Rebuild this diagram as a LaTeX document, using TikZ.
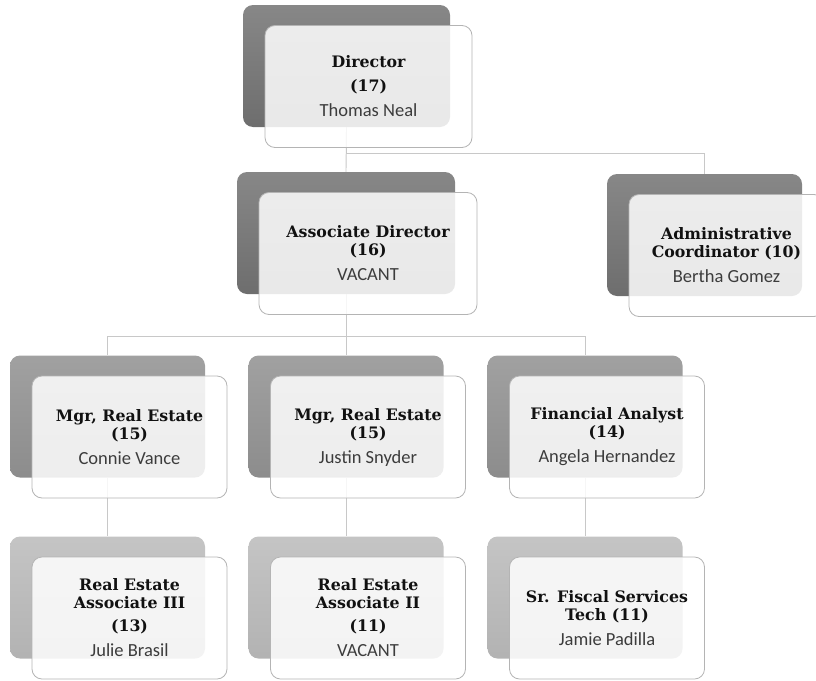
\documentclass[tikz,border=0pt]{standalone}
\usepackage{fontspec}
\newfontfamily\titlefont{DejaVu Serif}
\newfontfamily\namefont{Carlito}
\usetikzlibrary{backgrounds}

\definecolor{linkgray}{HTML}{C8C8C8}
\definecolor{framegray}{HTML}{B4B4B4}
\definecolor{namegray}{HTML}{3C3C3C}
\definecolor{titleblack}{HTML}{111111}

\newcommand\who[1]{{\namefont\mdseries\fontsize{18.5}{18}\selectfont\color{namegray}#1}}

\tikzset{
  card/.style={rounded corners=10pt, minimum height=122pt, inner sep=0pt},
  backdark/.style={card, top color=black!47, bottom color=black!57},
  backmid/.style={card, top color=black!37, bottom color=black!45},
  backlight/.style={card, top color=black!23, bottom color=black!30},
  front/.style={card, fill=white, fill opacity=0.85, text opacity=1,
    draw=framegray, line width=0.8pt, align=center, text=titleblack,
    font=\fontsize{15.8}{18}\selectfont\titlefont\bfseries},
  link/.style={draw=linkgray, line width=0.9pt}
}

\begin{document}
\begin{tikzpicture}[x=1pt,y=-1pt]
\useasboundingbox (0,0) rectangle (816,680);
\clip (0,0) rectangle (816,680);

% back plates
\node[backdark, minimum width=207pt] (dirB) at (346.5,66) {};
\node[backdark, minimum width=218pt] (assocB) at (346,233) {};
\node[backdark, minimum width=195pt] (admB) at (704.5,235) {};
\node[backmid, minimum width=195pt] (mgrAB) at (107.5,416.5) {};
\node[backmid, minimum width=195pt] (mgrBB) at (346,416.5) {};
\node[backmid, minimum width=195pt] (finB) at (585,416.5) {};
\node[backlight, minimum width=195pt] (reaB) at (107.5,597.5) {};
\node[backlight, minimum width=195pt] (rebB) at (346,597.5) {};
\node[backlight, minimum width=195pt] (fisB) at (585,597.5) {};

% front cards with titles and names
\node[front, minimum width=207pt] (dirF) at (368.5,86.5)
  {Director\\[6pt](17)\\[7pt]\who{Thomas Neal}};
\node[front, minimum width=218pt] (assocF) at (368,253.5)
  {Associate Director\\(16)\\[7pt]\who{VACANT}};
\node[front, minimum width=195pt] (admF) at (726.5,255.5)
  {Administrative\\Coordinator (10)\\[7pt]\who{Bertha Gomez}};
\node[front, minimum width=195pt] (mgrAF) at (129.5,437)
  {Mgr, Real Estate\\(15)\\[7pt]\who{Connie Vance}};
\node[front, minimum width=195pt] (mgrBF) at (368,437)
  {Mgr, Real Estate\\(15)\\[7pt]\who{Justin Snyder}};
\node[front, minimum width=195pt] (finF) at (607,437)
  {Financial Analyst\\(14)\\[7pt]\who{Angela Hernandez}};
\node[front, minimum width=195pt] (reaF) at (129.5,618)
  {Real Estate\\Associate III\\[5pt](13)\\[7pt]\who{Julie Brasil}};
\node[front, minimum width=195pt] (rebF) at (368,618)
  {Real Estate\\Associate II\\[5pt](11)\\[7pt]\who{VACANT}};
\node[front, minimum width=195pt] (fisF) at (607,618)
  {Sr. Fiscal Services\\Tech (11)\\[7pt]\who{Jamie Padilla}};

% reporting lines, kept behind the cards
\begin{pgfonlayer}{background}
  \draw[link] (dirB.south) |- ([yshift=20pt]admB.north) -- (admB.north);
  \draw[link] (dirB.south) -- (assocB.north);
  \draw[link] (assocB.south) |- ([yshift=19pt]mgrAB.north) -- (mgrAB.north);
  \draw[link] (assocB.south) |- ([yshift=19pt]finB.north) -- (finB.north);
  \draw[link] (assocB.south) -- (mgrBB.north);
  \draw[link] (mgrAB.south) -- (reaB.north);
  \draw[link] (mgrBB.south) -- (rebB.north);
  \draw[link] (finB.south) -- (fisB.north);
\end{pgfonlayer}
\end{tikzpicture}
\end{document}
